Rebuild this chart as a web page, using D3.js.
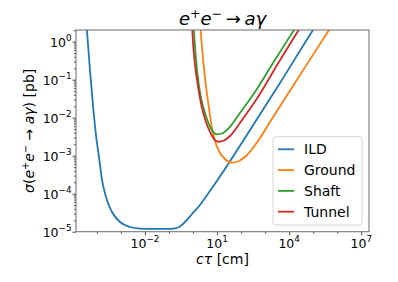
<!DOCTYPE html>
<html><head><meta charset="utf-8">
<script src="https://cdn.jsdelivr.net/npm/d3@7"></script>
<style>body{margin:0;background:#fff} svg{display:block} text{font-family:"DejaVu Sans",sans-serif;fill:#000}</style>
</head><body><svg id="c" width="398" height="282"></svg>
<script>
// ---- data ----
const seriesNames = ["ILD", "Ground", "Shaft", "Tunnel"];
const ildTau   = [3.34e-5, 3.85e-5, 5.14e-5, 6.85e-5, 9.14e-5, 1.22e-4, 1.63e-4, 2.38e-4, 4.24e-4, 9.12e-4, 2.38e-3, 6.19e-3, 2.61e-2, 1.10e-1, 2.36e-1, 4.62e-1, 0.904, 1.95, 5.07, 21.3, 120, 4150, 9.8e4, 1.92e5];
const ildSigma = [6.82, 2.03, 0.180, 2.16e-2, 3.51e-3, 9.25e-4, 2.30e-4, 8.18e-5, 3.30e-5, 1.80e-5, 1.33e-5, 1.21e-5, 1.18e-5, 1.18e-5, 1.29e-5, 1.80e-5, 2.92e-5, 5.05e-5, 1.18e-4, 4.47e-4, 2.44e-3, 8.18e-2, 2.03, 3.95];
const groundTau   = [1.85, 2.08, 2.59, 3.45, 4.60, 6.14, 8.18, 12.0, 21.3, 41.7, 81.7, 160, 504, 1590, 1.44e4, 4.54e5, 8.89e5];
const groundSigma = [6.82, 2.03, 0.372, 6.82e-2, 1.80e-2, 5.36e-3, 2.44e-3, 1.33e-3, 8.18e-4, 6.55e-4, 7.26e-4, 9.82e-4, 2.44e-3, 7.71e-3, 6.82e-2, 2.03, 3.95];
const shaftTau   = [0.994, 1.09, 1.82, 2.59, 3.80, 5.58, 9.64, 16.0, 28.4, 89.7, 378, 2120, 1.59e4, 3.10e4];
const shaftSigma = [6.82, 2.03, 6.05e-2, 2.02e-2, 9.25e-3, 5.20e-3, 3.66e-3, 3.84e-3, 5.05e-3, 1.33e-2, 4.74e-2, 0.275, 2.03, 3.95];
const tunnelTau   = [0.861, 0.929, 1.65, 2.36, 3.45, 5.07, 7.43, 11.2, 19.4, 34.4, 109, 504, 3430, 2.49e4, 4.78e4];
const tunnelSigma = [6.82, 2.03, 6.05e-2, 1.80e-2, 7.71e-3, 4.21e-3, 2.75e-3, 2.33e-3, 2.51e-3, 3.30e-3, 8.69e-3, 3.51e-2, 0.267, 2.03, 3.95];
const xTickExps = [-2, 1, 4, 7];
const yTickExps = [-5, -4, -3, -2, -1, 0];
const xDomain = [1.35e-5, 2.1e7];
const yDomain = [1e-5, 2.03];

// ---- layout ----
const L = 76, R = 369, T = 30, B = 231.7;
const colors = ["#1f77b4", "#ff7f0e", "#2ca02c", "#d62728"];
const x = d3.scaleLog().domain(xDomain).range([L, R]);
const y = d3.scaleLog().domain(yDomain).range([B, T]);
const svg = d3.select("#c");

svg.append("defs").append("clipPath").attr("id", "clip")
  .append("rect").attr("x", L).attr("y", T).attr("width", R - L).attr("height", B - T);

const series = [
  {tau: ildTau, sig: ildSigma},
  {tau: groundTau, sig: groundSigma},
  {tau: shaftTau, sig: shaftSigma},
  {tau: tunnelTau, sig: tunnelSigma}
];
const line = d3.line().x(d => x(d[0])).y(d => y(d[1])).curve(d3.curveMonotoneX);
const g = svg.append("g").attr("clip-path", "url(#clip)");
series.forEach((s, i) => {
  g.append("path").datum(s.tau.map((t, j) => [t, s.sig[j]]))
    .attr("d", line).attr("fill", "none").attr("stroke", colors[i]).attr("stroke-width", 1.8)
    .attr("stroke-linejoin", "round");
});

// ---- axes ----
const xMajors = xTickExps.map(e => Math.pow(10, e));
const xMinors = d3.range(-4, 8).filter(e => !xTickExps.includes(e)).map(e => Math.pow(10, e));
const yMajors = yTickExps.map(e => Math.pow(10, e));
const yMinors = [];
for (let k = -5; k <= 0; k++) for (let s = 2; s <= 9; s++) { const v = s * Math.pow(10, k); if (v <= yDomain[1]) yMinors.push(v); }

function styleAxis(sel) { sel.select(".domain").remove(); sel.selectAll("line").attr("stroke", "#333").attr("stroke-width", 0.9); }
svg.append("g").attr("transform", `translate(0,${B})`).call(d3.axisBottom(x).tickValues(xMajors).tickSize(3.5).tickFormat("")).call(styleAxis);
svg.append("g").attr("transform", `translate(0,${B})`).call(d3.axisBottom(x).tickValues(xMinors).tickSize(2).tickFormat("")).call(styleAxis);
svg.append("g").attr("transform", `translate(${L},0)`).call(d3.axisLeft(y).tickValues(yMajors).tickSize(3.5).tickFormat("")).call(styleAxis);
svg.append("g").attr("transform", `translate(${L},0)`).call(d3.axisLeft(y).tickValues(yMinors).tickSize(2).tickFormat("")).call(styleAxis);

svg.append("rect").attr("x", L).attr("y", T).attr("width", R - L).attr("height", B - T)
  .attr("fill", "none").attr("stroke", "#777").attr("stroke-width", 1.1);

function powLabel(px, py, e, anchor) {
  const t = svg.append("text").attr("x", px).attr("y", py).attr("text-anchor", anchor).attr("font-size", 12.5);
  t.append("tspan").text("10");
  t.append("tspan").attr("dy", -5.5).attr("font-size", 8.8).text(e < 0 ? "\u2212" + (-e) : String(e));
}
xTickExps.forEach((e, i) => powLabel(x(xMajors[i]), 247.7, e, "middle"));
yTickExps.forEach((e, i) => powLabel(71.5, y(yMajors[i]) + 5, e, "end"));

// ---- title & labels ----
const title = svg.append("text").attr("x", (L + R) / 2).attr("y", 25).attr("text-anchor", "middle").attr("font-size", 18);
title.append("tspan").attr("font-style", "italic").text("e");
title.append("tspan").attr("dy", -7).attr("font-size", 12.6).text("+");
title.append("tspan").attr("dy", 7).attr("font-style", "italic").text("e");
title.append("tspan").attr("dy", -7).attr("font-size", 12.6).text("\u2212");
title.append("tspan").attr("dy", 7).text("\u2009\u2192\u2009");
title.append("tspan").attr("font-style", "italic").text("a\u03b3");

const xl = svg.append("text").attr("x", (L + R) / 2).attr("y", 264).attr("text-anchor", "middle").attr("font-size", 14);
xl.append("tspan").attr("font-style", "italic").text("c\u03c4");
xl.append("tspan").text(" [cm]");

const yl = svg.append("text").attr("transform", `translate(34,${(T + B) / 2}) rotate(-90)`).attr("text-anchor", "middle").attr("font-size", 14);
yl.append("tspan").attr("font-style", "italic").text("\u03c3");
yl.append("tspan").text("(");
yl.append("tspan").attr("font-style", "italic").text("e");
yl.append("tspan").attr("dy", -5.5).attr("font-size", 9.8).text("+");
yl.append("tspan").attr("dy", 5.5).attr("font-style", "italic").text("e");
yl.append("tspan").attr("dy", -5.5).attr("font-size", 9.8).text("\u2212");
yl.append("tspan").attr("dy", 5.5).text(" \u2192 ");
yl.append("tspan").attr("font-style", "italic").text("a\u03b3");
yl.append("tspan").text(") [pb]");

// ---- legend ----
const lg = svg.append("g");
lg.append("rect").attr("x", 273).attr("y", 136.7).attr("width", 89).attr("height", 88.3).attr("rx", 3)
  .attr("fill", "#fff").attr("fill-opacity", 0.8).attr("stroke", "#d6d6d6").attr("stroke-width", 1);
seriesNames.forEach((n, i) => {
  const yy = 149.3 + i * 20.8;
  lg.append("line").attr("x1", 278).attr("x2", 294).attr("y1", yy).attr("y2", yy).attr("stroke", colors[i]).attr("stroke-width", 1.8);
  lg.append("text").attr("x", 304).attr("y", yy + 5).attr("font-size", 14).text(n);
});
</script></body></html>
